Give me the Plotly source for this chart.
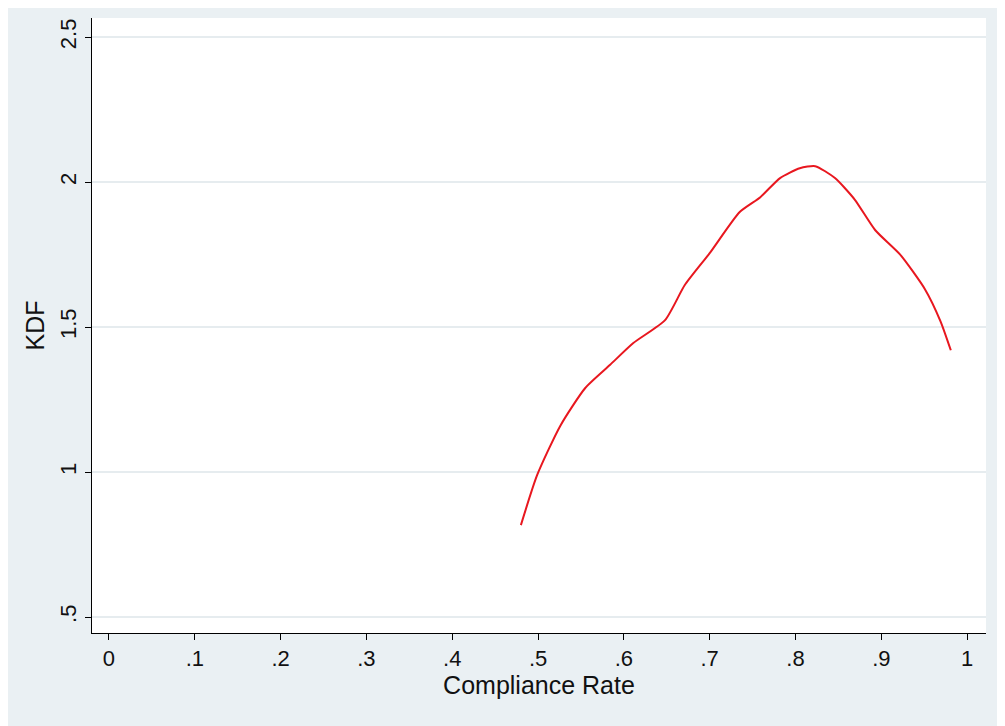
import plotly.graph_objects as go

# KDF of compliance rate
rate = [0.480, 0.499, 0.526, 0.555, 0.584, 0.611, 0.648, 0.671, 0.700, 0.735, 0.759,
        0.782, 0.805, 0.823, 0.846, 0.869, 0.893, 0.922, 0.951, 0.969, 0.981]
kdf = [0.817, 0.99, 1.16, 1.29, 1.37, 1.445, 1.524, 1.645, 1.755, 1.897, 1.948,
       2.014, 2.048, 2.055, 2.014, 1.94, 1.834, 1.75, 1.63, 1.52, 1.42]

xticks = [0, 0.1, 0.2, 0.3, 0.4, 0.5, 0.6, 0.7, 0.8, 0.9, 1]
xlabels = ["0", ".1", ".2", ".3", ".4", ".5", ".6", ".7", ".8", ".9", "1"]
yticks = [0.5, 1, 1.5, 2, 2.5]
ylabels = [".5", "1", "1.5", "2", "2.5"]

fig = go.Figure(go.Scatter(x=rate, y=kdf, mode="lines",
                           line=dict(color="#e8171f", width=2, shape="spline", smoothing=0.6)))

fig.update_layout(
    width=1005, height=726,
    paper_bgcolor="#eaf0f3", plot_bgcolor="white",
    margin=dict(l=84, r=27, t=10, b=101),
    font=dict(family="Liberation Sans, Arial", size=21, color="#111"),
    showlegend=False,
)
fig.update_xaxes(range=[-0.0198, 1.022], tickvals=xticks, ticktext=xlabels,
                 tickfont=dict(size=22),
                 showgrid=False, zeroline=False, showline=True, linecolor="black",
                 ticks="outside", ticklen=6, tickcolor="black",
                 title=dict(text="Compliance Rate", standoff=2))
fig.update_yaxes(range=[0.445, 2.566], tickvals=yticks, ticktext=ylabels,
                 tickfont=dict(size=22),
                 tickangle=-90, showgrid=True, gridcolor="#e6ecef", gridwidth=1.5,
                 zeroline=False, showline=True, linecolor="black",
                 ticks="outside", ticklen=6, tickcolor="black",
                 title=dict(text="KDF", standoff=4))

fig.write_html("out.html")
